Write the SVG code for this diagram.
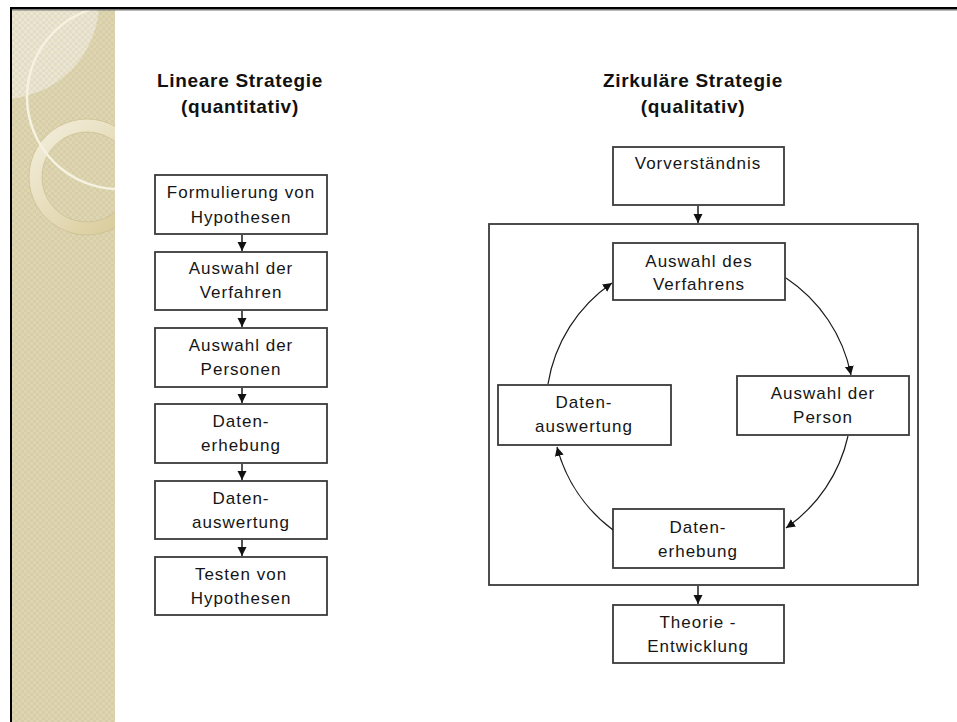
<svg xmlns="http://www.w3.org/2000/svg" width="957" height="722" viewBox="0 0 957 722">
<style>
.box{fill:#fff;stroke:#3a3a3a;stroke-width:1.8}
.t{font-family:"Liberation Sans",Arial,sans-serif;font-size:17px;letter-spacing:1px;fill:#151515;text-anchor:middle}
.h{font-family:"Liberation Sans",Arial,sans-serif;font-size:19px;font-weight:bold;letter-spacing:0.7px;fill:#111;text-anchor:middle}
.c{fill:none;stroke:#1a1a1a;stroke-width:1.2}
.v{fill:none;stroke:#1a1a1a;stroke-width:1.5}
</style>
<defs>
<marker id="ah" viewBox="0 0 10 10" markerWidth="9" markerHeight="10" refX="10" refY="5" orient="auto" markerUnits="userSpaceOnUse">
<path d="M0,0 L10,5 L0,10 z" fill="#111"/>
</marker>
<pattern id="chk" width="6" height="6" patternUnits="userSpaceOnUse">
<rect width="6" height="6" fill="#d7cea7"/>
<rect width="3" height="3" fill="#ded6b3"/>
<rect x="3" y="3" width="3" height="3" fill="#ded6b3"/>
</pattern>
<pattern id="chk2" width="6" height="6" patternUnits="userSpaceOnUse">
<rect width="6" height="6" fill="#e3ddc5"/>
<rect width="3" height="3" fill="#ebe6d3"/>
<rect x="3" y="3" width="3" height="3" fill="#ebe6d3"/>
</pattern>
<linearGradient id="ring" x1="0" y1="0" x2="1" y2="1">
<stop offset="0" stop-color="#f4f0e0"/>
<stop offset="0.5" stop-color="#e6dcba"/>
<stop offset="1" stop-color="#d4c58f"/>
</linearGradient>
<clipPath id="strip"><rect x="12" y="10" width="103" height="712"/></clipPath>
</defs>
<rect width="957" height="722" fill="#fff"/>
<g id="background" clip-path="url(#strip)">
<rect x="12" y="10" width="103" height="712" fill="url(#chk)"/>
<circle cx="2" cy="2" r="97" fill="url(#chk2)"/>
<path d="M87,119 A58,58 0 1 0 87.01,119 Z M87,132 A45,45 0 1 1 86.99,132 Z" fill="url(#ring)" fill-rule="evenodd" stroke="#cbbf90" stroke-width="0.8"/>
<circle cx="119" cy="97" r="92" fill="none" stroke="#f6f2e2" stroke-width="2.5"/>
</g>
<g id="frame">
<rect x="10" y="7" width="2" height="715" fill="#000"/>
<rect x="10" y="7" width="947" height="2" fill="#000"/>
<rect x="12" y="9" width="945" height="1.5" fill="#777"/>
</g>
<g id="title-left">
<text class="h" x="240" y="87">Lineare Strategie</text>
<text class="h" x="240" y="113">(quantitativ)</text>
</g>
<g id="title-right">
<text class="h" x="693" y="87">Zirkuläre Strategie</text>
<text class="h" x="693" y="113">(qualitativ)</text>
</g>
<g id="l1"><rect class="box" x="155" y="175" width="172" height="59"/><text class="t" x="241" y="198">Formulierung von</text><text class="t" x="241" y="223">Hypothesen</text></g>
<g id="l2"><rect class="box" x="155" y="252" width="172" height="58"/><text class="t" x="241" y="274">Auswahl der</text><text class="t" x="241" y="298">Verfahren</text></g>
<g id="l3"><rect class="box" x="155" y="328" width="172" height="59"/><text class="t" x="241" y="351">Auswahl der</text><text class="t" x="241" y="375">Personen</text></g>
<g id="l4"><rect class="box" x="155" y="404" width="172" height="59"/><text class="t" x="241" y="427">Daten-</text><text class="t" x="241" y="451">erhebung</text></g>
<g id="l5"><rect class="box" x="155" y="481" width="172" height="58"/><text class="t" x="241" y="504">Daten-</text><text class="t" x="241" y="528">auswertung</text></g>
<g id="l6"><rect class="box" x="155" y="557" width="172" height="58"/><text class="t" x="241" y="580">Testen von</text><text class="t" x="241" y="604">Hypothesen</text></g>
<g id="cycle-frame"><rect class="box" x="489" y="224" width="429" height="361" fill="none"/></g>
<g id="r0"><rect class="box" x="613" y="147" width="171" height="58"/><text class="t" x="698" y="169">Vorverständnis</text></g>
<g id="r1"><rect class="box" x="613" y="243" width="172" height="57"/><text class="t" x="699" y="267">Auswahl des</text><text class="t" x="699" y="290">Verfahrens</text></g>
<g id="r2"><rect class="box" x="737" y="376" width="172" height="59"/><text class="t" x="823" y="399">Auswahl der</text><text class="t" x="823" y="423">Person</text></g>
<g id="r3"><rect class="box" x="613" y="509" width="171" height="59"/><text class="t" x="698" y="533">Daten-</text><text class="t" x="698" y="557">erhebung</text></g>
<g id="r4"><rect class="box" x="498" y="385" width="173" height="60"/><text class="t" x="584" y="408">Daten-</text><text class="t" x="584" y="432">auswertung</text></g>
<g id="r5"><rect class="box" x="613" y="605" width="171" height="58"/><text class="t" x="698" y="628">Theorie -</text><text class="t" x="698" y="652">Entwicklung</text></g>
<g id="connectors">
<path class="v" d="M242,235 V251" marker-end="url(#ah)"/>
<path class="v" d="M242,311 V327" marker-end="url(#ah)"/>
<path class="v" d="M242,388 V403" marker-end="url(#ah)"/>
<path class="v" d="M242,464 V480" marker-end="url(#ah)"/>
<path class="v" d="M242,540 V556" marker-end="url(#ah)"/>
<path class="v" d="M698,206 V223" marker-end="url(#ah)"/>
<path class="v" d="M698,586 V604" marker-end="url(#ah)"/>
<path class="c" d="M786,278 A152,152 0 0 1 851,375" marker-end="url(#ah)"/>
<path class="c" d="M848,436 A152,152 0 0 1 786,528" marker-end="url(#ah)"/>
<path class="c" d="M613,530 A152,152 0 0 1 557,447" marker-end="url(#ah)"/>
<path class="c" d="M548,384 A152,152 0 0 1 612,283" marker-end="url(#ah)"/>
</g>
</svg>
